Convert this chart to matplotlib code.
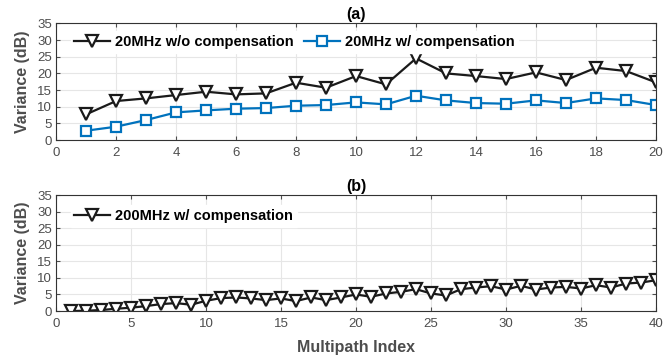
import numpy as np
import matplotlib
matplotlib.use("Agg")
import matplotlib.pyplot as plt

plt.rcParams['font.family'] = ['Liberation Sans', 'DejaVu Sans']

# (a) 20 MHz, multipath index 1..20
idx_a = np.arange(1, 21)
var_wo = [7.7, 11.7, 12.5, 13.5, 14.5, 13.7, 14.0, 17.2, 15.7, 19.2,
          16.7, 24.5, 20.0, 19.2, 18.3, 20.3, 18.0, 21.7, 20.7, 17.3]
var_w = [2.8, 4.0, 6.0, 8.3, 8.9, 9.4, 9.6, 10.3, 10.5, 11.3,
         10.7, 13.3, 11.9, 11.1, 10.9, 11.9, 11.1, 12.5, 12.0, 10.5]

# (b) 200 MHz, multipath index 1..40
idx_b = np.arange(1, 41)
var_200 = [0.0, 0.1, 0.3, 0.7, 1.0, 1.5, 2.1, 2.4, 1.9, 3.1,
           3.9, 4.1, 3.8, 3.3, 3.8, 3.0, 4.1, 3.3, 4.1, 5.0,
           4.3, 5.3, 5.8, 6.6, 5.3, 4.7, 6.6, 7.1, 7.5, 6.5,
           7.6, 6.5, 7.1, 7.3, 6.8, 7.8, 7.1, 8.3, 8.6, 9.3]

blk = '#1a1a1a'
blue = '#0072BD'
gray = '#4d4d4d'

fig = plt.figure(figsize=(6.67, 3.6), dpi=100)
ax1 = fig.add_axes([0.084, 0.611, 0.8995, 0.324])
ax2 = fig.add_axes([0.084, 0.136, 0.8995, 0.322])


def style(ax, xmax, xstep):
    ax.set_xlim(0, xmax)
    ax.set_ylim(0, 35)
    ax.set_xticks(np.arange(0, xmax + 1, xstep))
    ax.set_yticks(np.arange(0, 36, 5))
    ax.grid(True, color='#e6e6e6', linewidth=0.8)
    ax.set_axisbelow(True)
    ax.tick_params(direction='in', length=3, width=0.8, colors=gray,
                   labelsize=9.5, top=True, right=True)
    ax.tick_params(axis='x', pad=5)
    ax.tick_params(axis='y', pad=3)
    for s in ax.spines.values():
        s.set_color('#333333')
        s.set_linewidth(0.8)
    ax.set_ylabel('Variance (dB)', fontsize=11.5, fontweight='bold', color=gray, labelpad=5)


ax1.plot(idx_a, var_wo, color=blk, lw=1.6, marker='v', ms=9, mew=1.6,
         mfc='white', mec=blk, label='20MHz w/o compensation')
ax1.plot(idx_a, var_w, color=blue, lw=1.6, marker='s', ms=7, mew=1.6,
         mfc='white', mec=blue, label='20MHz w/ compensation')
style(ax1, 20, 2)
ax1.set_title('(a)', fontsize=11.5, fontweight='bold', pad=3)
ax1.legend(loc='upper left', bbox_to_anchor=(0.012, 0.995), ncol=2,
           frameon=True, fancybox=False, edgecolor='white', framealpha=1,
           prop={'weight': 'bold', 'size': 10.5}, handlelength=2.45,
           columnspacing=0.7, handletextpad=0.35, borderpad=0.25)

ax2.plot(idx_b, var_200, color=blk, lw=1.6, marker='v', ms=9, mew=1.6,
         mfc='white', mec=blk, label='200MHz w/ compensation')
style(ax2, 40, 5)
ax2.set_title('(b)', fontsize=11.5, fontweight='bold', pad=3)
ax2.legend(loc='upper left', bbox_to_anchor=(0.012, 0.975),
           frameon=True, fancybox=False, edgecolor='white', framealpha=1,
           prop={'weight': 'bold', 'size': 10.5}, handlelength=2.45,
           handletextpad=0.35, borderpad=0.25)
ax2.set_xlabel('Multipath Index', fontsize=11.5, fontweight='bold', color=gray, labelpad=7)

fig.savefig('out.png', dpi=100)
